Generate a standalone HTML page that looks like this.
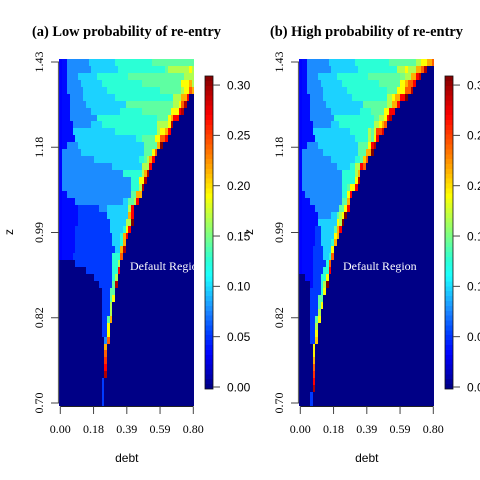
<!DOCTYPE html>
<html>
<head>
<meta charset="utf-8">
<title>Default probability heatmaps</title>
<style>
html,body{margin:0;padding:0;background:#fff;width:480px;height:480px;overflow:hidden}
svg{display:block}
</style>
</head>
<body>
<svg id="chart" xmlns="http://www.w3.org/2000/svg" width="480" height="480" viewBox="0 0 480 480">
<defs>
<clipPath id="clip-a"><rect x="59" y="59" width="135" height="347"/></clipPath>
<clipPath id="clip-b"><rect x="299" y="59" width="135" height="347"/></clipPath>
</defs>
</svg>
<script>
const xTickLabels = ['0.00','0.18','0.39','0.59','0.80'];
const yTickLabels = ['0.70','0.82','0.99','1.18','1.43'];
const colorbarTicks = [0,0.05,0.10,0.15,0.20,0.25,0.30];
const colorDomain = [-0.002,0.309];
const gridColumns = 51;

// Each row runs top to bottom as value,repeat pairs; cells not listed are 0.
const lowReentry = [
[.033,1,.036,2,.077,8,.097,10,.125,14,.141,16],
[.033,1,.036,2,.077,9,.097,10,.125,18,.141,1,.166,8,.19,1,.166,1],
[.033,1,.036,2,.077,4,.097,7,.125,12,.141,21,.166,4],
[.033,1,.036,2,.077,5,.097,8,.125,15,.141,15,.19,3,.215,1,.166,1],
[.033,1,.036,2,.077,6,.097,9,.125,20,.141,8,.166,1,.19,2,.24,1,.215,1],
[.033,1,.036,3,.077,5,.097,12,.125,22,.166,3,.215,2,.27,1],
[.033,1,.036,3,.077,6,.097,15,.141,18,.166,2,.19,1,.24,1,.293,1],
[.033,1,.036,3,.077,8,.097,11,.125,8,.141,11,.19,3,.27,1,.293,1],
[.033,1,.036,3,.077,10,.125,23,.141,4,.19,1,.215,1,.27,2],
[.033,1,.036,4,.077,7,.097,4,.125,21,.166,4,.19,1,.293,1],
[.033,1,.036,4,.097,16,.125,16,.166,1,.19,2,.215,1,.27,1],
[.033,1,.036,5,.097,23,.125,2,.141,5,.19,2,.24,2,.27,1],
[.033,1,.036,2,.077,4,.097,25,.141,5,.215,1,.309,1],
[.033,1,.077,7,.097,24,.141,3,.19,1,.24,1],
[.033,1,.077,12,.097,17,.125,2,.141,1,.166,1,.215,1,.27,1],
[.033,1,.077,19,.097,11,.166,3,.27,1],
[.033,1,.077,23,.125,7,.166,1,.215,1,.293,1],
[.033,1,.077,26,.125,3,.19,2,.293,1],
[.033,1,.077,26,.125,3,.166,1,.293,1],
[.033,1,.036,2,.077,24,.141,2,.215,2],
[.033,1,.036,5,.077,18,.097,2,.141,2,.166,1,.27,1],
[.033,1,.036,6,.052,8,.077,3,.097,8,.166,1,.27,1],
[.033,1,.036,6,.052,11,.097,8,.215,1,.27,1],
[.033,1,.036,6,.052,12,.097,6,.166,2,.309,1],
[.033,1,.036,5,.052,13,.097,5,.125,1,.19,1,.27,1],
[.033,1,.036,5,.052,14,.097,3,.125,1,.215,1,.27,1],
[.033,1,.036,5,.052,14,.097,3,.125,1,.215,1],
[.033,1,.036,5,.052,15,.097,2,.215,1,.293,1],
[.033,1,.036,4,.052,15,.125,3,.24,1],
[0,6,.052,14,.125,2,.166,1],
[0,10,.052,10,.125,2,.27,1],
[0,13,.052,7,.125,1,.166,1],
[0,15,.052,5,.141,1,.293,1],
[0,16,.052,3,.141,2],
[0,16,.052,3,.141,1,.19,1],
[0,16,.052,3,.166,1],
[0,16,.052,3,.166,1],
[0,16,.052,2,.141,1,.215,1],
[0,16,.052,2,.19,1],
[0,16,.052,2,.19,1],
[0,17,.077,1,.24,1],
[0,17,.215,1],
[0,17,.24,1],
[0,17,.255,1],
[0,17,.27,1],
[0,17,.293,1],
[0,16,.052,1],
[0,16,.052,1],
[0,16,.052,1],
[0,16,.052,1]
];

const highReentry = [
[.033,1,.036,2,.077,8,.097,10,.125,13,.141,10,.166,2,.19,2,.215,2,.24,1],
[.033,1,.036,2,.077,9,.097,10,.125,15,.166,3,.19,1,.166,3,.215,2,.24,1,.293,1],
[.033,1,.036,2,.077,4,.097,7,.125,12,.141,12,.15,2,.166,2,.215,2,.27,1,.293,1],
[.033,1,.036,2,.077,5,.097,8,.125,14,.141,8,.19,2,.215,1,.24,2,.27,1],
[.033,1,.036,2,.077,6,.097,9,.125,15,.141,4,.19,3,.24,2,.293,1],
[.033,1,.036,3,.077,5,.097,11,.125,13,.166,2,.19,1,.215,2,.27,2,.309,1],
[.033,1,.036,3,.077,6,.097,14,.141,9,.166,2,.215,2,.27,1],
[.033,1,.036,3,.077,8,.097,11,.125,4,.141,5,.19,2,.27,2],
[.033,1,.036,3,.077,9,.125,15,.141,2,.166,2,.19,1,.27,1,.293,1],
[.033,1,.036,4,.077,7,.097,3,.125,13,.166,2,.19,1,.215,1,.24,1],
[.033,1,.036,4,.097,14,.125,7,.166,1,.141,1,.178,1,.25,2,.28,1],
[.033,1,.036,5,.097,15,.125,5,.166,1,.141,1,.19,1,.27,1],
[.033,1,.036,2,.077,4,.097,15,.141,4,.19,1,.27,1,.293,1],
[.033,1,.077,8,.097,13,.141,3,.215,2,.309,1],
[.033,1,.077,11,.097,9,.125,2,.141,1,.205,1,.24,1],
[.033,1,.077,13,.097,5,.125,2,.166,2,.27,1,.24,1],
[.033,1,.077,15,.125,5,.166,1,.215,1],
[.033,1,.077,15,.125,5,.19,1,.293,1],
[.033,1,.077,15,.125,2,.141,1,.19,2,.27,1],
[.033,1,.036,1,.077,14,.125,2,.19,1,.27,1],
[.033,1,.036,3,.077,12,.141,2,.215,1],
[.033,1,.036,5,.077,9,.141,2,.19,1,.27,1],
[.033,1,.036,6,.077,5,.097,2,.141,1,.166,1,.19,1,.309,1],
[.033,1,.036,6,.097,7,.19,1,.166,1,.309,1],
[.033,1,.036,5,.052,2,.097,5,.141,1,.215,1,.27,1],
[.033,1,.036,5,.052,2,.097,5,.19,1,.215,1],
[.033,1,.036,5,.052,2,.097,4,.125,1,.215,1],
[.033,1,.036,4,.052,4,.097,3,.19,1],
[.033,1,.036,4,.052,4,.097,2,.125,1,.24,1],
[.033,1,.036,4,.052,5,.125,1,.24,1],
[.033,1,.036,4,.052,4,.125,2,.27,1],
[0,2,.036,3,.052,3,.125,2,.19,1],
[0,4,.036,1,.052,3,.125,1,.166,1,.309,1],
[0,4,.052,4,.125,1,.19,1],
[0,4,.052,3,.141,2],
[0,4,.052,3,.141,1,.19,1],
[0,4,.052,3,.166,1],
[0,4,.052,2,.141,1,.19,1],
[0,4,.052,2,.166,1],
[0,4,.052,2,.19,1],
[0,4,.052,2,.205,1],
[0,5,.19,1],
[0,5,.195,1],
[0,5,.215,1],
[0,5,.24,1],
[0,5,.255,1],
[0,5,.27,1],
[0,5,.295,1],
[0,4,.052,1],
[0,4,.052,1]
];
</script>
<script>
const SVG_NS = 'http://www.w3.org/2000/svg';
const chart = document.getElementById('chart');

function jet(v){
  const t = (v - colorDomain[0]) / (colorDomain[1] - colorDomain[0]);
  const stops = [[0,0,0,127],[.111,0,0,255],[.18,0,64,255],[.25,28,136,255],[.36,28,255,255],[.41,43,255,213],[.619,255,255,0],[.873,255,0,0],[1,128,0,0]];
  for (let i = 1; i < stops.length; i++) {
    if (t <= stops[i][0]) {
      const a = stops[i-1], b = stops[i];
      const f = Math.max(0,(t - a[0]) / (b[0] - a[0]));
      return 'rgb(' + [1,2,3].map(k => Math.round(a[k] + (b[k]-a[k])*f)).join(',') + ')';
    }
  }
  return 'rgb(128,0,0)';
}

function make(parent, tag, attrs, text){
  const el = document.createElementNS(SVG_NS, tag);
  for (const k in attrs) el.setAttribute(k, attrs[k]);
  if (text !== undefined) el.textContent = text;
  parent.appendChild(el);
  return el;
}

const SERIF = '"Liberation Serif", serif';
const SANS = '"Liberation Sans", sans-serif';

function drawPanel(rows, dx, titleText, regionX, clipId, panelKey){
  const left = 59 + dx, top = 59, plotW = 135, plotH = 347;
  const xScale = c => Math.ceil(left + c * plotW / gridColumns - 0.001);
  const yScale = r => Math.round(top + r * plotH / rows.length);

  const group = make(chart, 'g', {});
  
  

  const title = make(group, 'text', {x: 32 + dx - (dx ? 2 : 0), y: 36, 'font-family': SERIF, 'font-weight': 'bold', 'font-size': 14.4, fill: '#000'}, titleText);
  
  

  const heat = make(group, 'g', {'shape-rendering': 'crispEdges'});
  
  
  rows.forEach((row, r) => {
    const cells = [];
    for (let i = 0; i < row.length; i += 2) {
      for (let n = 0; n < row[i+1]; n++) cells.push(row[i]);
    }
    while (cells.length < gridColumns) cells.push(0);
    let start = 0;
    for (let c = 1; c <= gridColumns; c++) {
      if (c === gridColumns || cells[c] !== cells[start]) {
        const rect = make(heat, 'rect', {
          x: xScale(start),
          y: yScale(r),
          width: xScale(c) - xScale(start),
          height: yScale(r+1) - yScale(r),
          fill: jet(cells[start])
        });
        
        
        start = c;
      }
    }
  });

  const region = make(group, 'text', {x: regionX, y: 270, 'font-family': SERIF, 'font-size': 12, fill: '#fff', 'clip-path': 'url(#' + clipId + ')'}, 'Default Region');
  
  

  // x axis: ticks are evenly spaced along the grid
  const xFirst = left + 1.3, xLast = left + 134.3;
  const xTick = i => xFirst + i * (xLast - xFirst) / (xTickLabels.length - 1);
  const xAxisLine = make(group, 'line', {x1: xFirst, x2: xLast, y1: 406.5, y2: 406.5, stroke: '#222', 'stroke-width': 1});
  
  
  xTickLabels.forEach((label, i) => {
    const tick = make(group, 'line', {x1: xTick(i), x2: xTick(i), y1: 406.5, y2: 414, stroke: '#444', 'stroke-width': 1});
    
    
    const txt = make(group, 'text', {x: xTick(i), y: 433, 'text-anchor': 'middle', 'font-family': SERIF, 'font-size': 12, fill: '#000'}, label);
    
    
  });
  const xTitle = make(group, 'text', {x: (xFirst + xLast) / 2, y: 462, 'text-anchor': 'middle', 'font-family': SANS, 'font-size': 12, fill: '#000'}, 'debt');
  
  

  // y axis
  const yFirst = 403, yLast = 62;
  const yTick = i => yFirst + i * (yLast - yFirst) / (yTickLabels.length - 1);
  const yAxisLine = make(group, 'line', {x1: left - 0.5, x2: left - 0.5, y1: yLast, y2: yFirst, stroke: '#666', 'stroke-width': 1.2});
  
  
  yTickLabels.forEach((label, i) => {
    const tick = make(group, 'line', {x1: left - 8, x2: left, y1: yTick(i), y2: yTick(i), stroke: '#444', 'stroke-width': 1});
    
    
    const bx = left - 16, by = yTick(i);
    const txt = make(group, 'text', {transform: 'translate(' + bx + ',' + by + ') rotate(-90)', 'text-anchor': 'middle', 'font-family': SERIF, 'font-size': 12, fill: '#000'}, label);
    
    
  });
  const yTitle = make(group, 'text', {transform: 'translate(' + (13 + dx) + ',232) rotate(-90)', 'text-anchor': 'middle', 'font-family': SANS, 'font-size': 12, fill: '#000'}, 'z');
  
  

  // colour bar
  const barLeft = 205 + dx, barW = 8, barTop = 76, barBottom = 389;
  const barScale = v => barBottom - (v - colorDomain[0]) / (colorDomain[1] - colorDomain[0]) * (barBottom - barTop);
  const bar = make(group, 'g', {'shape-rendering': 'crispEdges'});
  
  
  const steps = 64;
  for (let s = 0; s < steps; s++) {
    const lo = colorDomain[0] + (colorDomain[1] - colorDomain[0]) * s / steps;
    const hi = colorDomain[0] + (colorDomain[1] - colorDomain[0]) * (s + 1) / steps;
    const seg = make(bar, 'rect', {x: barLeft, y: barScale(hi).toFixed(2), width: barW, height: (barScale(lo) - barScale(hi)).toFixed(2), fill: jet((lo + hi) / 2)});
    
    
  }
  const frame = make(group, 'rect', {x: barLeft, y: barTop, width: barW, height: barBottom - barTop, fill: 'none', stroke: '#111', 'stroke-width': 0.8});
  
  
  colorbarTicks.forEach(v => {
    const tick = make(group, 'line', {x1: barLeft + barW, x2: barLeft + barW + 7, y1: barScale(v), y2: barScale(v), stroke: '#444', 'stroke-width': 1});
    
    
    const txt = make(group, 'text', {x: barLeft + 22, y: barScale(v) + 4.3, 'font-family': SANS, 'font-size': 12, fill: '#000'}, v.toFixed(2));
    
    
  });
}

drawPanel(lowReentry, 0, '(a) Low probability of re-entry', 130, 'clip-a', 'low-reentry');
drawPanel(highReentry, 240, '(b) High probability of re-entry', 343, 'clip-b', 'high-reentry');
</script>
</body>
</html>
